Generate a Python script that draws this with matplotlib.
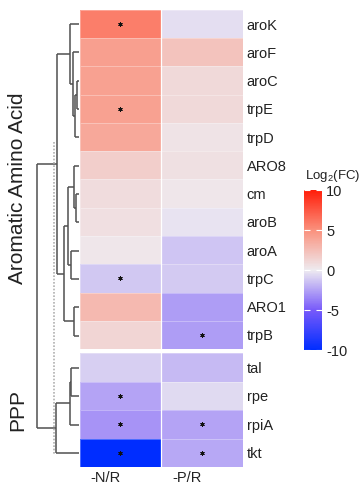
import numpy as np
import matplotlib
matplotlib.use("Agg")
import matplotlib.pyplot as plt
from matplotlib.colors import LinearSegmentedColormap, Normalize
from matplotlib.cm import ScalarMappable

plt.rcParams['font.family'] = ['Liberation Sans', 'DejaVu Sans']
plt.rcParams['axes.unicode_minus'] = False

# data
genes_aro = ['aroK', 'aroF', 'aroC', 'trpE', 'trpD', 'ARO8', 'cm', 'aroB',
             'aroA', 'trpC', 'ARO1', 'trpB']
genes_ppp = ['tal', 'rpe', 'rpiA', 'tkt']
conditions = ['-N/R', '-P/R']
nr_aro = [5.8, 4.2, 4.1, 4.1, 3.7, 1.6, 0.8, 0.7, 0.3, -1.2, 2.8, 1.2]
pr_aro = [-0.4, 2.2, 1.0, 1.0, 0.4, 0.6, 0.3, -0.3, -1.3, -1.1, -2.7, -2.7]
nr_ppp = [-1.0, -2.5, -3.0, -10.0]
pr_ppp = [-1.7, -0.6, -2.5, -2.3]
sig_nr = ['aroK', 'trpE', 'trpC', 'rpe', 'rpiA', 'tkt']
sig_pr = ['trpB', 'rpiA', 'tkt']

# dendrogram: (height, left, right), leaves are gene names
aro_tree = (22, (9, 'aroK', (6, 'aroF', (3.5, (1.5, 'aroC', 'trpE'), 'trpD'))),
            (15, (11, (5, 'ARO8', (3, 'cm', 'aroB')), (8, 'aroA', 'trpC')),
             (5, 'ARO1', 'trpB')))
ppp_tree = (23, (9, (7.5, 'tal', 'rpe'), 'rpiA'), 'tkt')
tree = (41.5, aro_tree, ppp_tree)
cut_height = 24.5

cmap = LinearSegmentedColormap.from_list('fc', [
    (0.0, (0/255, 45/255, 255/255)),
    (0.25, (120/255, 90/255, 250/255)),
    (0.5, (238/255, 235/255, 240/255)),
    (0.75, (250/255, 145/255, 125/255)),
    (1.0, (255/255, 30/255, 10/255))])
norm = Normalize(-10, 10)

W, H = 364, 486
fig = plt.figure(figsize=(W/100, H/100), dpi=100)

def box(x0, y0, x1, y1):
    return [x0/W, 1 - y1/H, (x1 - x0)/W, (y1 - y0)/H]

def heat(ax, genes, nr, pr):
    data = np.array([nr, pr]).T
    ax.pcolormesh(data, cmap=cmap, norm=norm, edgecolors=(1, 1, 1, 0.3), linewidth=0.4)
    ax.axvline(1, color='white', lw=0.9)
    ax.set_xlim(0, 2)
    ax.set_ylim(len(genes), 0)
    for i, g in enumerate(genes):
        if g in sig_nr:
            ax.scatter(0.5, i + 0.5, marker=(6, 2, 0), s=7, c='#111', linewidths=0.7)
        if g in sig_pr:
            ax.scatter(1.5, i + 0.5, marker=(6, 2, 0), s=7, c='#111', linewidths=0.7)
    ax.yaxis.tick_right()
    ax.set_yticks(np.arange(len(genes)) + 0.5)
    ax.set_yticklabels(genes, fontsize=10.5, color='#222')
    ax.tick_params(axis='y', length=0, pad=3)
    for s in ax.spines.values():
        s.set_visible(False)

ax1 = fig.add_axes(box(79.5, 10, 242.5, 349))
heat(ax1, genes_aro, nr_aro, pr_aro)
ax1.set_xticks([])
ax2 = fig.add_axes(box(79.5, 353, 242.5, 467))
heat(ax2, genes_ppp, nr_ppp, pr_ppp)
ax2.set_xticks([0.5, 1.5])
ax2.set_xticklabels(conditions, fontsize=10.5, color='#222', ha='right')
ax2.tick_params(axis='x', length=0, pad=3)

# dendrogram
gap = 4 / 28.3
order = genes_aro + genes_ppp
leaf_y = {g: i + 0.5 for i, g in enumerate(genes_aro)}
leaf_y.update({g: len(genes_aro) + gap + i + 0.5 for i, g in enumerate(genes_ppp)})

axd = fig.add_axes(box(30, 10, 78.5, 467))
lc = '#505050'

def draw(node):
    if isinstance(node, str):
        return leaf_y[node], 0
    h, a, b = node
    ya, ha = draw(a)
    yb, hb = draw(b)
    axd.plot([h, h], [ya, yb], color=lc, lw=1.1, solid_capstyle='butt')
    axd.plot([ha, h], [ya, ya], color=lc, lw=1.1, solid_capstyle='butt')
    axd.plot([hb, h], [yb, yb], color=lc, lw=1.1, solid_capstyle='butt')
    return (ya + yb) / 2, h

draw(tree)
axd.vlines(cut_height, 4.66, 15.7, color='#b0b0b0', lw=1.2, linestyles=(0, (1, 1)))
axd.set_xlim(48.5, 0)
axd.set_ylim(len(order) + gap, 0)
axd.axis('off')

fig.text(18/W, 1 - 188/H, 'Aromatic Amino Acid', rotation=90, fontsize=15,
         ha='center', va='center', color='#222')
fig.text(18/W, 1 - 410/H, 'PPP', rotation=90, fontsize=15,
         ha='center', va='center', color='#222')

# colorbar
cax = fig.add_axes(box(304, 190, 322, 350))
cb = fig.colorbar(ScalarMappable(norm=norm, cmap=cmap), cax=cax)
cb.outline.set_visible(False)
cb.set_ticks([10, 5, 0, -5, -10])
cax.tick_params(direction='in', color='white', length=4, width=0.8,
                left=True, right=True, labelsize=10.5, labelcolor='#222', pad=3)
fig.text(333/W, 1 - 176/H, r'Log$_\mathregular{2}$(FC)', fontsize=9.5,
         ha='center', va='center', color='#222')

fig.savefig('out.png', dpi=100)
